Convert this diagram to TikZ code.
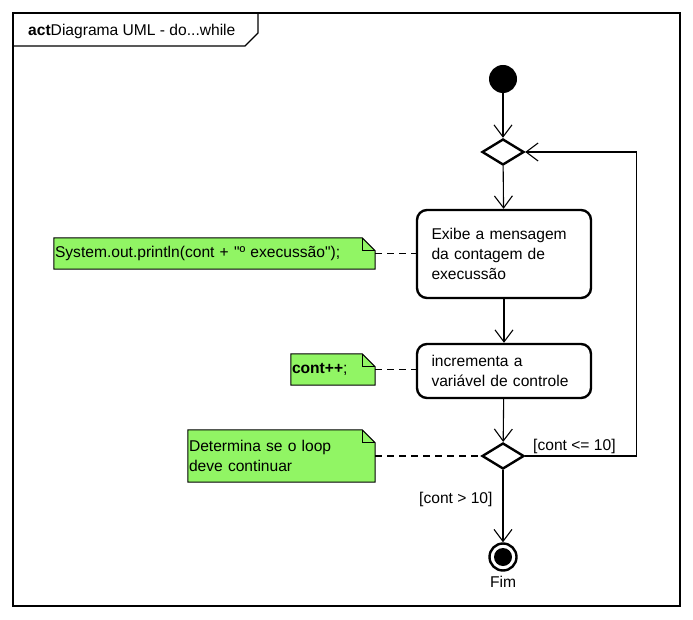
\documentclass[tikz,border=0pt]{standalone}
\usepackage{fontspec}
\setmainfont{Liberation Sans}
\usetikzlibrary{shapes.geometric,arrows.meta,backgrounds}
\definecolor{notegreen}{RGB}{145,245,100}

\begin{document}
\begin{tikzpicture}[x=1pt, y=-1pt, font=\fontsize{15.6}{20}\selectfont,
    action/.style = {draw, line width=2.4pt, rounded corners=10pt, align=left, text width=145pt, inner xsep=14pt, minimum width=174pt},
    choice/.style = {draw, diamond, line width=2.4pt, minimum width=42pt, minimum height=26pt, inner sep=0pt},
    note/.style = {align=left, inner sep=1pt},
    guard/.style = {anchor=base west, inner sep=0pt},
    flow/.style = {line width=1.1pt, -{Straight Barb[length=12pt,width=18pt,line width=1.1pt]}},
    link/.style = {line width=1.1pt, dash pattern=on 7pt off 5pt}]
    \useasboundingbox (0,0) rectangle (693,620);

    % frame
    \draw[line width=1.2pt] (13,13) rectangle (680,606);
    \draw[line width=1.2pt] (13,46) -- (245,46) -- (258,33) -- (258,13);
    \node[anchor=base west, inner sep=0pt] (title) at (28,36) {\textbf{act}Diagrama UML - do...while};

    \node[circle, fill=black, minimum size=28pt, inner sep=0pt] (start) at (503,79) {};
    \node[choice] (merge) at (503,152) {};
    \node[action, minimum height=88pt] (show) at (504,254) {Exibe a mensagem\\da contagem de\\execussão};
    \node[action, minimum height=54pt] (incr) at (504,371) {incrementa a\\variável de controle};
    \node[choice] (test) at (503,456) {};
    \node[circle, draw, line width=2.4pt, minimum size=27pt, inner sep=0pt,
        path picture={\fill (path picture bounding box.center) circle (9pt);},
        label={[label distance=1pt]below:Fim}] (end) at (503,557) {};

    % notes
    \node[note, text width=319pt, minimum height=31pt] (noteshow) at (214.5,253.5) {System.out.println(cont + \textquotedbl º execussão\textquotedbl);};
    \node[note, text width=82pt, minimum height=31pt] (noteincr) at (333,369.5) {\textbf{cont++};};
    \node[note, text width=185pt, minimum height=52pt] (notetest) at (281.5,456) {Determina se o loop\\deve continuar};
    \begin{scope}[on background layer]
        \foreach \n in {noteshow,noteincr,notetest} {
            \filldraw[fill=notegreen, line width=1pt] (\n.south west) -- (\n.south east) -- ([yshift=-13pt]\n.north east)
                -- ([xshift=-13pt]\n.north east) -- (\n.north west) -- cycle;
            \draw[line width=1pt] ([xshift=-13pt]\n.north east) -- ([xshift=-13pt,yshift=-13pt]\n.north east) -- ([yshift=-13pt]\n.north east);
        }
    \end{scope}

    \draw[flow] (start) -- (merge);
    \draw[flow] (merge) -- (show);
    \draw[flow] (show) -- (incr);
    \draw[flow] (incr) -- (test);
    \draw[flow] (test) -- (end);
    \draw[flow] (test.east) -- ++(111,0) |- (merge.east);
    \node[guard] (guardloop) at (533,450) {[cont <= 10]};
    \node[guard] (guardexit) at (419,503) {[cont > 10]};

    \draw[link] (noteshow.east) -- (noteshow.east -| show.west);
    \draw[link] (noteincr.east) -- (noteincr.east -| incr.west);
    \draw[link] (notetest.east) -- (test.west);
\end{tikzpicture}
\end{document}
